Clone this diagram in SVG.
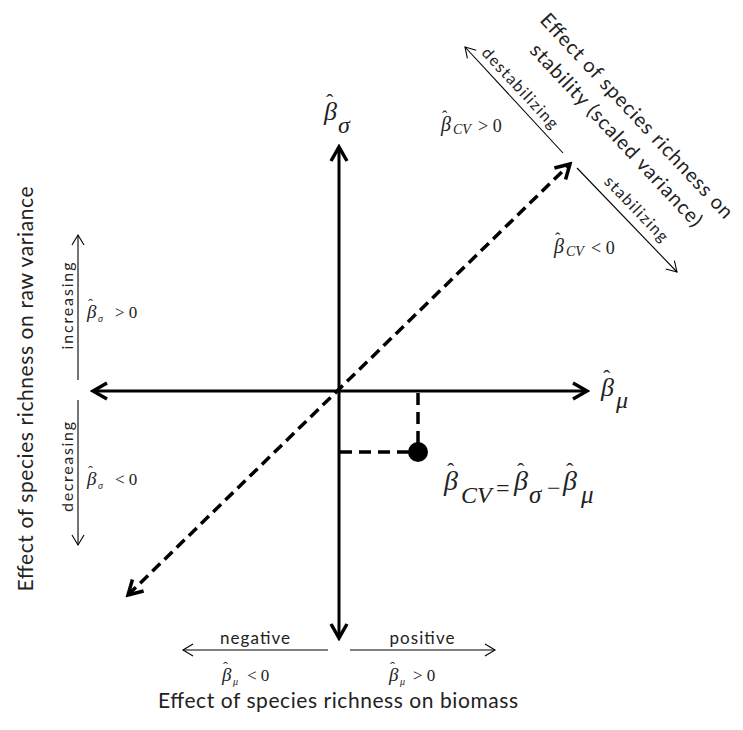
<svg xmlns="http://www.w3.org/2000/svg" width="743" height="730" viewBox="0 0 743 730">
<style>
.lbl{font-family:Lato,"Liberation Sans",sans-serif;fill:#222}
.m{font-family:"Liberation Serif",serif;font-style:italic;fill:#222}
.n{font-family:"Liberation Serif",serif;fill:#222}
.h{font-style:normal}
.thick{stroke:#000;stroke-width:3;fill:none}
.dash{stroke:#000;stroke-width:3.5;fill:none;stroke-dasharray:11 6}
.thin{stroke:#000;stroke-width:1.1;fill:none}
</style>
<defs>
<marker id="ah" viewBox="0 0 20 20" refX="17" refY="10" markerWidth="20" markerHeight="20" markerUnits="userSpaceOnUse" orient="auto-start-reverse">
<path d="M3,2 L17,10 L3,18" fill="none" stroke="#000" stroke-width="3.5"/>
</marker>
<marker id="at" viewBox="0 0 14 14" refX="12" refY="7" markerWidth="14" markerHeight="14" markerUnits="userSpaceOnUse" orient="auto">
<path d="M2,1 L12,7 L2,13" fill="none" stroke="#000" stroke-width="1.1"/>
</marker>
</defs>
<g id="connectors">
<line class="thick" x1="93" y1="391" x2="587" y2="391" marker-start="url(#ah)" marker-end="url(#ah)"/>
<line class="thick" x1="339" y1="147" x2="339" y2="638" marker-start="url(#ah)" marker-end="url(#ah)"/>
<line class="dash" x1="128" y1="595" x2="570" y2="164" marker-start="url(#ah)" marker-end="url(#ah)"/>
<line class="dash" x1="418" y1="393" x2="418" y2="452" style="stroke-dasharray:12 7"/>
<line class="dash" x1="340" y1="452" x2="418" y2="452" style="stroke-dasharray:12 7"/>
<line class="thin" x1="563" y1="153" x2="465" y2="47" marker-end="url(#at)"/>
<line class="thin" x1="577" y1="168" x2="677" y2="272" marker-end="url(#at)"/>
<line class="thin" x1="78" y1="380" x2="78" y2="235" marker-end="url(#at)"/>
<line class="thin" x1="78" y1="400" x2="78" y2="545" marker-end="url(#at)"/>
<line class="thin" x1="328" y1="650" x2="183" y2="650" marker-end="url(#at)"/>
<line class="thin" x1="350" y1="650" x2="495" y2="650" marker-end="url(#at)"/>
</g>
<g id="point">
<circle cx="418" cy="452" r="10" fill="#000"/>
</g>
<g id="axis-sigma-label">
<text class="m" x="324" y="120" font-size="26">β<tspan class="h" x="326" y="109" font-size="22">ˆ</tspan></text>
<text class="m" x="338" y="133" font-size="24">σ</text>
</g>
<g id="axis-mu-label">
<text class="m" x="601" y="396" font-size="26">β<tspan class="h" x="603" y="385" font-size="22">ˆ</tspan></text>
<text class="m" x="616" y="408" font-size="24">μ</text>
</g>
<g id="formula">
<text class="m" x="444" y="490" font-size="28">β<tspan class="h" x="447" y="478" font-size="22">ˆ</tspan></text>
<text class="m" x="461" y="503" font-size="24">CV</text>
<text class="n" x="496" y="496" font-size="24">=</text>
<text class="m" x="514" y="490" font-size="28">β<tspan class="h" x="517" y="478" font-size="22">ˆ</tspan></text>
<text class="m" x="529" y="503" font-size="25">σ</text>
<text class="n" x="547" y="496" font-size="24">−</text>
<text class="m" x="563" y="490" font-size="28">β<tspan class="h" x="566" y="478" font-size="22">ˆ</tspan></text>
<text class="m" x="581" y="503" font-size="25">μ</text>
</g>
<g id="stability-labels">
<text class="m" x="441" y="131" font-size="20">β<tspan class="h" x="442" y="122" font-size="16">ˆ</tspan></text>
<text class="m" x="453" y="134" font-size="14">CV</text>
<text class="n" x="478" y="132" font-size="18">&gt; 0</text>
<text class="m" x="554" y="253" font-size="20">β<tspan class="h" x="555" y="244" font-size="16">ˆ</tspan></text>
<text class="m" x="566" y="256" font-size="14">CV</text>
<text class="n" x="591" y="254" font-size="18">&lt; 0</text>
<g transform="translate(511,96.5) rotate(47.2)"><text class="lbl" x="0" y="-7" font-size="16" text-anchor="middle" textLength="104">destabilizing</text></g>
<g transform="translate(626,219) rotate(46)"><text class="lbl" x="0" y="-9" font-size="16" text-anchor="middle" textLength="84">stabilizing</text></g>
<g transform="translate(626,126) rotate(47)">
<text class="lbl" x="0" y="-8" font-size="20" text-anchor="middle" textLength="272">Effect of species richness on</text>
<text class="lbl" x="0" y="20" font-size="20" text-anchor="middle" textLength="242">stability (scaled variance)</text>
</g>
</g>
<g id="variance-labels">
<g transform="translate(33,389) rotate(-90)"><text class="lbl" x="0" y="0" font-size="21" text-anchor="middle" textLength="405">Effect of species richness on raw variance</text></g>
<g transform="translate(73,306) rotate(-90)"><text class="lbl" x="0" y="0" font-size="16" text-anchor="middle" textLength="87">increasing</text></g>
<g transform="translate(73,467) rotate(-90)"><text class="lbl" x="0" y="0" font-size="16" text-anchor="middle" textLength="90">decreasing</text></g>
<text class="m" x="87" y="318" font-size="19">β<tspan class="h" x="88" y="309" font-size="15">ˆ</tspan></text>
<text class="m" x="98" y="322" font-size="10">σ</text>
<text class="n" x="115" y="318" font-size="17">&gt; 0</text>
<text class="m" x="87" y="485" font-size="19">β<tspan class="h" x="88" y="476" font-size="15">ˆ</tspan></text>
<text class="m" x="98" y="489" font-size="10">σ</text>
<text class="n" x="115" y="485" font-size="17">&lt; 0</text>
</g>
<g id="biomass-labels">
<text class="lbl" x="255" y="644" font-size="17" text-anchor="middle" textLength="70">negative</text>
<text class="lbl" x="422" y="644" font-size="17" text-anchor="middle" textLength="65">positive</text>
<text class="m" x="222" y="681" font-size="19">β<tspan class="h" x="223" y="672" font-size="15">ˆ</tspan></text>
<text class="m" x="233" y="685" font-size="10">μ</text>
<text class="n" x="247" y="681" font-size="17">&lt; 0</text>
<text class="m" x="389" y="681" font-size="19">β<tspan class="h" x="390" y="672" font-size="15">ˆ</tspan></text>
<text class="m" x="400" y="685" font-size="10">μ</text>
<text class="n" x="413" y="681" font-size="17">&gt; 0</text>
<text class="lbl" x="338" y="708" font-size="21" text-anchor="middle" textLength="360">Effect of species richness on biomass</text>
</g>
</svg>
